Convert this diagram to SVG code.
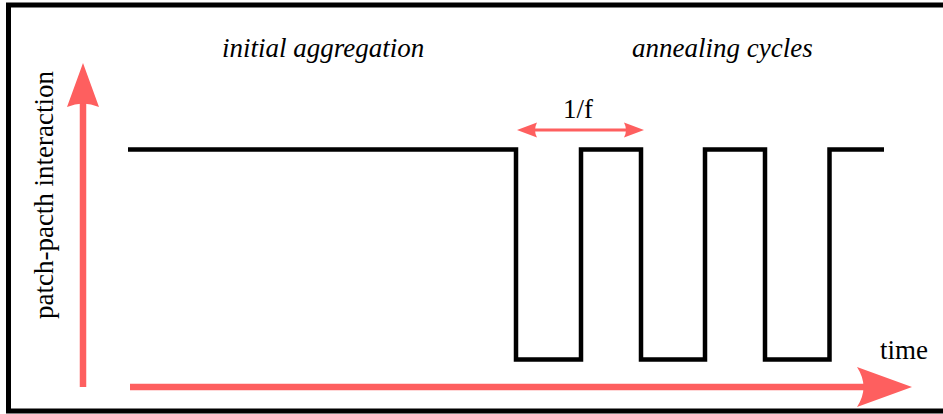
<svg xmlns="http://www.w3.org/2000/svg" width="943" height="414" viewBox="0 0 943 414">
<style>
.frame{fill:none;stroke:#000;stroke-width:5}
.wave{fill:none;stroke:#000;stroke-width:4.5;stroke-linejoin:miter}
.axis{stroke:#fe5f5f;stroke-width:6.5;fill:none}
.head{fill:#fe5f5f;stroke:none}
.thin{stroke:#fe5f5f;stroke-width:2.8;fill:none}
text{font-family:'Liberation Serif',serif;font-size:27px;fill:#000}
</style>
<rect class="frame" x="8.5" y="5" width="945" height="406"/>
<g id="y-axis">
<line class="axis" x1="83" y1="387" x2="83" y2="100"/>
<path class="head" d="M83,63 L99,107 Q83,100 67,107 Z"/>
<text font-family="Liberation Serif, serif" transform="translate(53,195) rotate(-90)" text-anchor="middle">patch-pacth interaction</text>
</g>
<g id="x-axis">
<line class="axis" x1="130" y1="387" x2="866" y2="387"/>
<path class="head" d="M912,387 L857,367 Q870,387 857,407 Z"/>
<text font-family="Liberation Serif, serif" x="904" y="359" text-anchor="middle">time</text>
</g>
<g id="signal">
<polyline class="wave" points="128,149.5 516,149.5 516,359.5 581,359.5 581,149.5 641,149.5 641,359.5 705,359.5 705,149.5 765,149.5 765,359.5 829.5,359.5 829.5,149.5 884,149.5"/>
</g>
<g id="period">
<line class="thin" x1="530" y1="130" x2="631" y2="130"/>
<path class="head" d="M517,130 L537,122.5 Q533,130 537,137.5 Z"/>
<path class="head" d="M644,130 L624,122.5 Q628,130 624,137.5 Z"/>
<text font-family="Liberation Serif, serif" x="578" y="118" text-anchor="middle" font-size="25">1/f</text>
</g>
<g id="labels">
<text font-family="Liberation Serif, serif" font-style="italic" x="222" y="57">initial aggregation</text>
<text font-family="Liberation Serif, serif" font-style="italic" x="632" y="57">annealing cycles</text>
</g>
</svg>
